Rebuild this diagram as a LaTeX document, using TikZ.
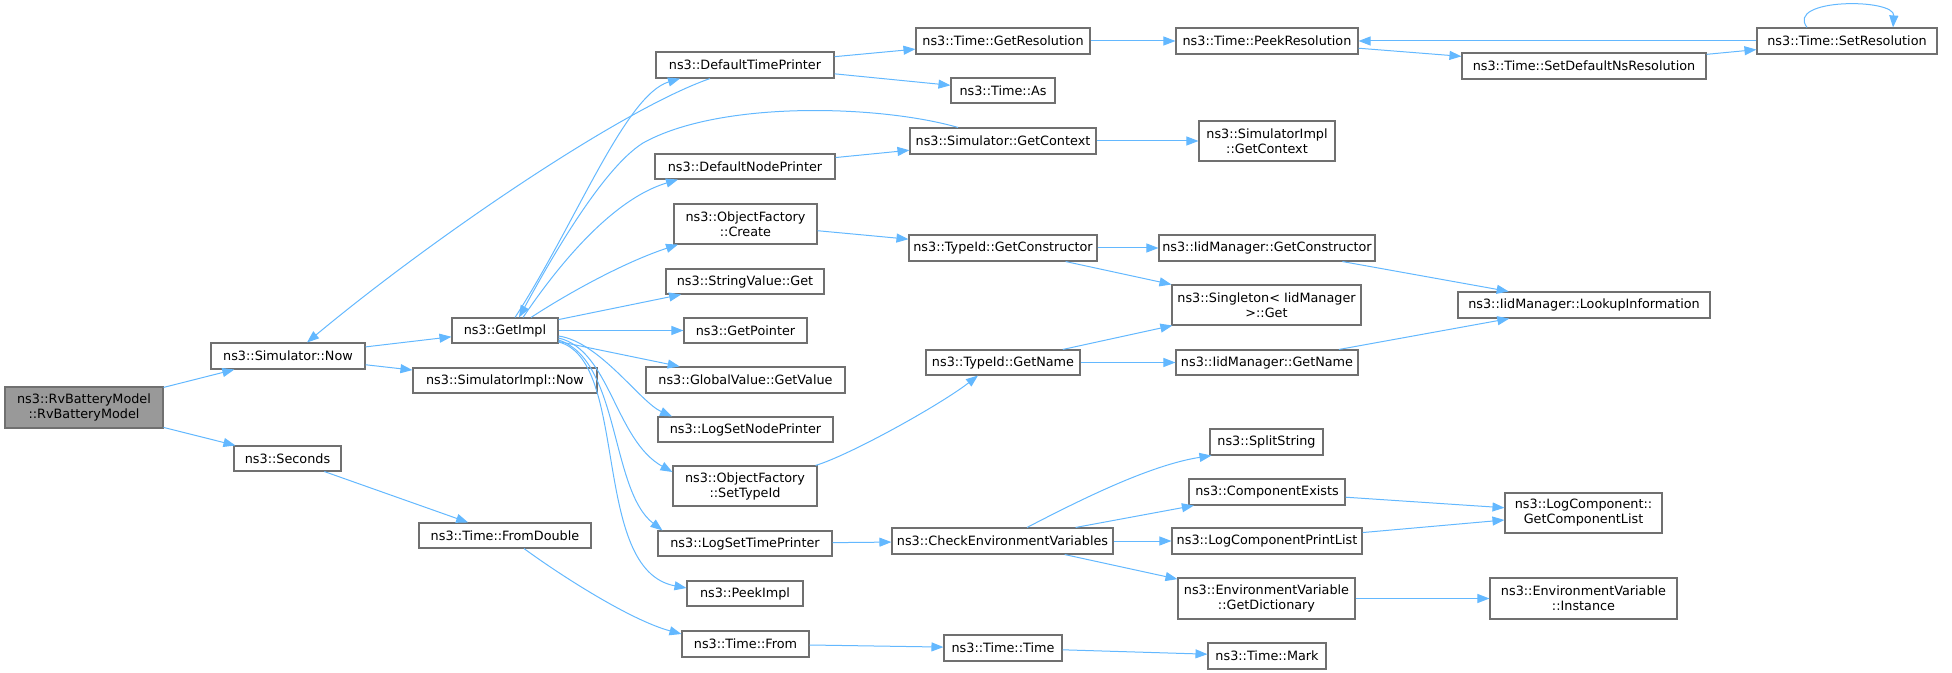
\documentclass[tikz,border=0pt]{standalone}
\usepackage{fontspec}
\setmainfont{DejaVu Sans}
\usetikzlibrary{arrows.meta}
\definecolor{edgeblue}{HTML}{63B8FF}
\definecolor{boxgray}{HTML}{707070}
\definecolor{rootfill}{HTML}{999999}
\newcommand\bx[7][]{%
  \pgfmathsetmacro\myBW{(#5-#3)*0.5}%
  \pgfmathsetmacro\myBH{(#6-#4)*0.5}%
  \node[box,#1,minimum width=\myBW pt,minimum height=\myBH pt] (#2) at ({(#3+#5)/2},{(#4+#6)/2}) {#7};}
\begin{document}
\begin{tikzpicture}[x=0.5pt,y=-0.5pt,
  box/.style={draw=boxgray,line width=0.55pt,fill=white,inner sep=0pt,
    font=\fontsize{6.4}{7.5}\selectfont,align=center},
  root/.style={fill=rootfill},
  edge/.style={draw=edgeblue,line width=0.5pt,-{Triangle[length=6pt,width=4.5pt]}}]
\useasboundingbox (0,0) rectangle (1952,673);
\bx[root]{rb}{5}{387}{163}{428}{ns3::RvBatteryModel\\::RvBatteryModel}
\bx{now}{211}{343}{365}{369}{ns3::Simulator::Now}
\bx{sec}{234}{446}{341}{471}{ns3::Seconds}
\bx{gi}{452}{318}{558}{343}{ns3::GetImpl}
\bx{sin}{413}{368}{597}{393}{ns3::SimulatorImpl::Now}
\bx{fd}{419}{523}{591}{548}{ns3::Time::FromDouble}
\bx{dtp}{656}{52}{834}{78}{ns3::DefaultTimePrinter}
\bx{dnp}{655}{154}{835}{179}{ns3::DefaultNodePrinter}
\bx{ofc}{674}{204}{817}{244}{ns3::ObjectFactory\\::Create}
\bx{svg}{666}{269}{824}{294}{ns3::StringValue::Get}
\bx{gp}{684}{318}{807}{343}{ns3::GetPointer}
\bx{gv}{646}{367}{845}{393}{ns3::GlobalValue::GetValue}
\bx{lsnp}{658}{417}{833}{442}{ns3::LogSetNodePrinter}
\bx{sti}{673}{466}{817}{506}{ns3::ObjectFactory\\::SetTypeId}
\bx{lstp}{658}{531}{832}{556}{ns3::LogSetTimePrinter}
\bx{pi}{687}{581}{803}{606}{ns3::PeekImpl}
\bx{from}{682}{631}{809}{657}{ns3::Time::From}
\bx{gr}{916}{28}{1090}{54}{ns3::Time::GetResolution}
\bx{as}{951}{78}{1055}{103}{ns3::Time::As}
\bx{gc}{910}{128}{1096}{154}{ns3::Simulator::GetContext}
\bx{tgc}{909}{235}{1097}{261}{ns3::TypeId::GetConstructor}
\bx{tgn}{926}{350}{1080}{375}{ns3::TypeId::GetName}
\bx{cev}{892}{528}{1113}{554}{ns3::CheckEnvironmentVariables}
\bx{tt}{944}{635}{1062}{661}{ns3::Time::Time}
\bx{pr}{1176}{28}{1358}{54}{ns3::Time::PeekResolution}
\bx{sigc}{1199}{121}{1335}{161}{ns3::SimulatorImpl\\::GetContext}
\bx{igc}{1159}{235}{1375}{261}{ns3::IidManager::GetConstructor}
\bx{sg}{1172}{285}{1361}{325}{ns3::Singleton< IidManager\\>::Get}
\bx{ign}{1176}{350}{1358}{375}{ns3::IidManager::GetName}
\bx{ss}{1210}{429}{1323}{455}{ns3::SplitString}
\bx{ce}{1189}{479}{1345}{505}{ns3::ComponentExists}
\bx{lcpl}{1172}{528}{1362}{554}{ns3::LogComponentPrintList}
\bx{gd}{1178}{578}{1355}{619}{ns3::EnvironmentVariable\\::GetDictionary}
\bx{mark}{1208}{643}{1326}{669}{ns3::Time::Mark}
\bx{sdnr}{1462}{53}{1706}{79}{ns3::Time::SetDefaultNsResolution}
\bx{sr}{1757}{28}{1937}{54}{ns3::Time::SetResolution}
\bx{lk}{1458}{292}{1710}{318}{ns3::IidManager::LookupInformation}
\bx{gcl}{1505}{493}{1662}{533}{ns3::LogComponent::\\GetComponentList}
\bx{inst}{1490}{578}{1677}{619}{ns3::EnvironmentVariable\\::Instance}
% edges
\draw[edge] (rb) -- (now);
\draw[edge] (rb) -- (sec);
\draw[edge] (now) -- (gi);
\draw[edge] (now) -- (sin);
\draw[edge] ([shift={(-35,0)}]dtp.south) .. controls (620,110) and (430,240) .. ([shift={(19,0)}]now.north);
\draw[edge] ([shift={(10,0)}]gi.north) .. controls (575,225) and (625,95) .. ([shift={(-65,0)}]dtp.south);
\draw[edge] ([shift={(-45,0)}]gc.north) .. controls (880,105) and (720,100) .. (643,143) .. controls (600,170) and (545,270) .. ([shift={(14,0)}]gi.north);
\draw[edge] ([shift={(18,0)}]gi.north) .. controls (555,270) and (610,200) .. ([shift={(-67,0)}]dnp.south);
\draw[edge] ([shift={(26,0)}]gi.north) .. controls (570,292) and (625,262) .. ([shift={(-67.5,0)}]ofc.south);
\draw[edge] (gi) -- (svg);
\draw[edge] (gi) -- (gp);
\draw[edge] (gi) -- (gv);
\draw[edge] ([shift={(0,5.5)}]gi.east) .. controls (600,342) and (640,402) .. ([shift={(-73.5,0)}]lsnp.north);
\draw[edge] ([shift={(0,7.5)}]gi.east) .. controls (610,350) and (615,440) .. ([shift={(0,-14)}]sti.west);
\draw[edge] ([shift={(0,9.5)}]gi.east) .. controls (620,360) and (610,490) .. ([shift={(5,0)}]lstp.north west);
\draw[edge] ([shift={(0,11.5)}]gi.east) .. controls (630,360) and (590,570) .. ([shift={(0,-5.5)}]pi.west);
\draw[edge] (sec) -- (fd);
\draw[edge] ([shift={(19,0)}]fd.south) .. controls (560,575) and (630,620) .. ([shift={(0,-10)}]from.west);
\draw[edge] (from) -- (tt);
\draw[edge] (tt) -- (mark);
\draw[edge] (dtp) -- (gr);
\draw[edge] (dtp) -- (as);
\draw[edge] (gr) -- (pr);
\draw[edge] (pr) -- (sdnr);
\draw[edge] (sdnr) -- (sr);
\draw[edge] (sr) -- (pr);
\draw[edge] ([shift={(-40,0)}]sr.north) .. controls (1785,-2) and (1895,-2) .. ([shift={(46,0)}]sr.north);
\draw[edge] (dnp) -- (gc);
\draw[edge] (gc) -- (sigc);
\draw[edge] (ofc) -- (tgc);
\draw[edge] (tgc) -- (igc);
\draw[edge] (tgc) -- (sg);
\draw[edge] (tgn) -- (sg);
\draw[edge] (tgn) -- (ign);
\draw[edge] (igc) -- (lk);
\draw[edge] (ign) -- (lk);
\draw[edge] ([shift={(-2,0)}]sti.north east) .. controls (850,455) and (940,405) .. ([shift={(-25,0)}]tgn.south);
\draw[edge] (lstp) -- (cev);
\draw[edge] ([shift={(24.5,0)}]cev.north) .. controls (1080,500) and (1150,465) .. ([shift={(2,0)}]ss.south west);
\draw[edge] (cev) -- (ce);
\draw[edge] (cev) -- (lcpl);
\draw[edge] (cev) -- (gd);
\draw[edge] (ce) -- (gcl);
\draw[edge] (lcpl) -- (gcl);
\draw[edge] (gd) -- (inst);
\end{tikzpicture}
\end{document}
